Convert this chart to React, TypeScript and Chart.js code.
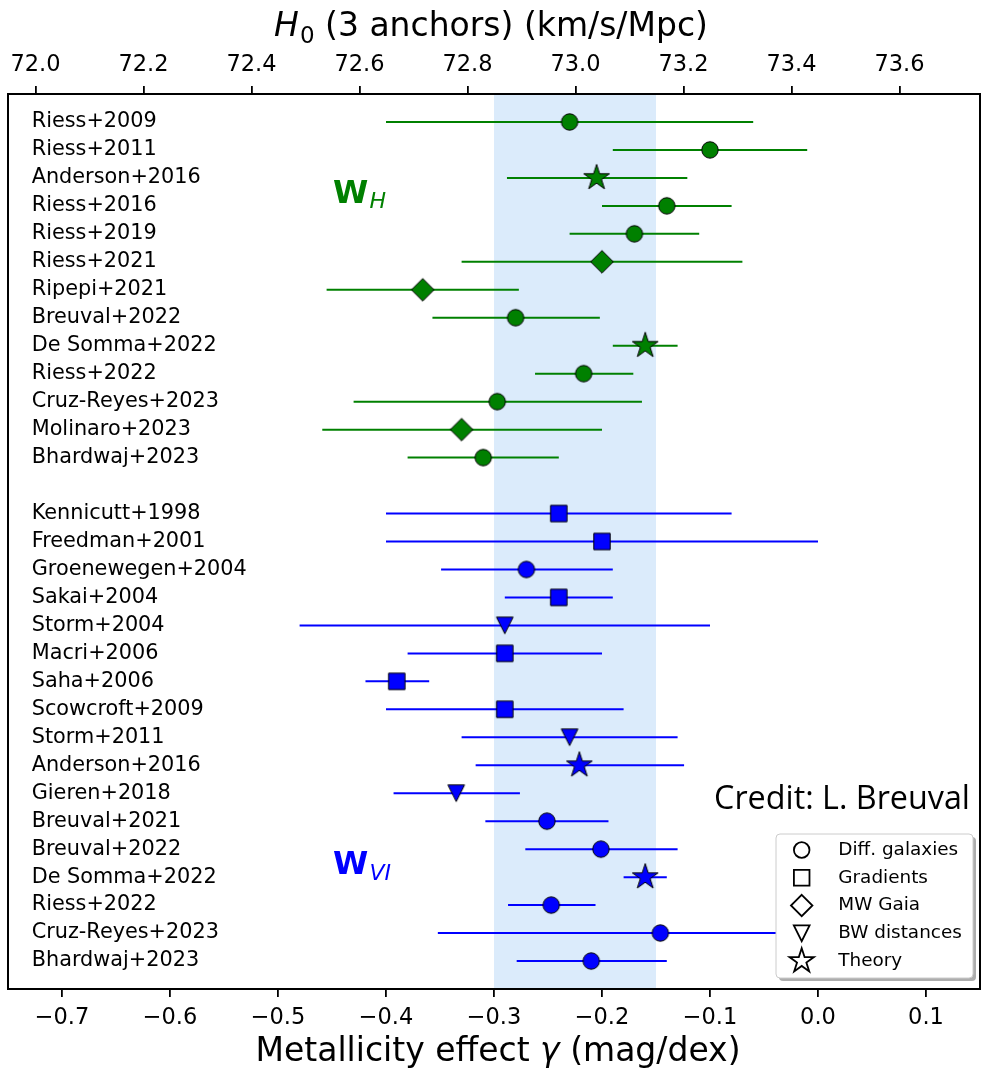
import React, { useEffect, useRef } from "react";
import { Chart, registerables } from "chart.js";

Chart.register(...registerables);

const FAMILY = '"DejaVu Sans", sans-serif';
Chart.defaults.font.family = FAMILY;

// ---------------- data ----------------
const greenLabels = [
  "Riess+2009", "Riess+2011", "Anderson+2016", "Riess+2016", "Riess+2019",
  "Riess+2021", "Ripepi+2021", "Breuval+2022", "De Somma+2022", "Riess+2022",
  "Cruz-Reyes+2023", "Molinaro+2023", "Bhardwaj+2023",
];
const greenGamma = [-0.23, -0.10, -0.205, -0.14, -0.17, -0.20, -0.366, -0.28, -0.16, -0.217, -0.297, -0.33, -0.31];
const greenLow = [-0.40, -0.19, -0.288, -0.20, -0.23, -0.33, -0.455, -0.357, -0.19, -0.262, -0.43, -0.459, -0.38];
const greenHigh = [-0.06, -0.01, -0.121, -0.08, -0.11, -0.07, -0.277, -0.202, -0.13, -0.171, -0.163, -0.20, -0.24];
const greenMethod = ["diff", "diff", "theory", "diff", "diff", "gaia", "gaia", "diff", "theory", "diff", "diff", "gaia", "diff"];

const blueLabels = [
  "Kennicutt+1998", "Freedman+2001", "Groenewegen+2004", "Sakai+2004", "Storm+2004",
  "Macri+2006", "Saha+2006", "Scowcroft+2009", "Storm+2011", "Anderson+2016",
  "Gieren+2018", "Breuval+2021", "Breuval+2022", "De Somma+2022", "Riess+2022",
  "Cruz-Reyes+2023", "Bhardwaj+2023",
];
const blueGamma = [-0.24, -0.20, -0.27, -0.24, -0.29, -0.29, -0.39, -0.29, -0.23, -0.221, -0.335, -0.251, -0.201, -0.16, -0.247, -0.146, -0.21];
const blueLow = [-0.40, -0.40, -0.349, -0.29, -0.48, -0.38, -0.419, -0.40, -0.33, -0.317, -0.393, -0.308, -0.271, -0.18, -0.287, -0.352, -0.279];
const blueHigh = [-0.08, 0.0, -0.19, -0.19, -0.10, -0.20, -0.36, -0.18, -0.13, -0.124, -0.276, -0.194, -0.13, -0.14, -0.206, 0.06, -0.14];
const blueMethod = ["grad", "grad", "diff", "grad", "bw", "grad", "grad", "grad", "bw", "theory", "bw", "diff", "diff", "theory", "diff", "diff", "diff"];

const rowLabels = [...greenLabels, "", ...blueLabels];
const greenRows = greenLabels.map((_, i) => i);
const blueRows = blueLabels.map((_, i) => greenLabels.length + 1 + i);

const gammaRange = [-0.75, 0.15];
const gammaTicks = [-0.7, -0.6, -0.5, -0.4, -0.3, -0.2, -0.1, 0.0, 0.1];
const h0Range = [71.949, 73.749];
const h0Ticks = [72.0, 72.2, 72.4, 72.6, 72.8, 73.0, 73.2, 73.4, 73.6];
const bandRange = [-0.3, -0.15];

const legendKeys = ["diff", "grad", "gaia", "bw", "theory"];
const legendLabels = ["Diff. galaxies", "Gradients", "MW Gaia", "BW distances", "Theory"];

const GREEN = "#008000";
const BLUE = "#0000ff";
const BAND = "#dbebfb";

// ---------------- markers ----------------
function tracePath(ctx: CanvasRenderingContext2D, shape: string, k = 1) {
  ctx.beginPath();
  if (shape === "diff") {
    ctx.arc(0, 0, 8.2 * k, 0, Math.PI * 2);
  } else if (shape === "grad") {
    const h = 8.2 * k;
    ctx.rect(-h, -h, 2 * h, 2 * h);
  } else if (shape === "gaia") {
    const r = 11.3 * k;
    ctx.moveTo(0, -r); ctx.lineTo(r, 0); ctx.lineTo(0, r); ctx.lineTo(-r, 0); ctx.closePath();
  } else if (shape === "bw") {
    const h = 8.3 * k;
    ctx.moveTo(-h, -h); ctx.lineTo(h, -h); ctx.lineTo(0, h); ctx.closePath();
  } else if (shape === "theory") {
    const R = 13.5 * k, r = R * 0.381966;
    for (let j = 0; j < 10; j++) {
      const a = -Math.PI / 2 + (j * Math.PI) / 5;
      const rr = j % 2 === 0 ? R : r;
      const px = rr * Math.cos(a), py = rr * Math.sin(a);
      if (j === 0) ctx.moveTo(px, py); else ctx.lineTo(px, py);
    }
    ctx.closePath();
  }
}

function makeMarker(shape: string, fill: string): HTMLCanvasElement {
  const c = document.createElement("canvas");
  c.width = 36; c.height = 36;
  const ctx = c.getContext("2d") as CanvasRenderingContext2D;
  ctx.translate(18, 18);
  tracePath(ctx, shape);
  ctx.fillStyle = fill;
  ctx.fill();
  ctx.lineWidth = 1;
  ctx.strokeStyle = "#000";
  ctx.stroke();
  return c;
}

function fmtTick(v: number | string) {
  const n = Number(v);
  if (Math.abs(n) < 1e-9) return "0.0";
  return n.toFixed(1).replace("-", "\u2212");
}

function drawRich(ctx: CanvasRenderingContext2D, parts: { t: string; f: string; dy: number; dx?: number }[], cx: number, baseline: number, align: "center" | "left" | "right", color: string) {
  ctx.save();
  ctx.fillStyle = color;
  ctx.textBaseline = "alphabetic";
  ctx.textAlign = "left";
  let total = 0;
  const widths = parts.map((p) => { ctx.font = p.f; const w = ctx.measureText(p.t).width + (p.dx || 0); total += w; return w; });
  let x = align === "center" ? cx - total / 2 : align === "right" ? cx - total : cx;
  parts.forEach((p, i) => {
    ctx.font = p.f;
    ctx.fillText(p.t, x + (p.dx || 0), baseline + p.dy);
    x += widths[i];
  });
  ctx.restore();
}

export default function App() {
  const ref = useRef<HTMLCanvasElement>(null);

  useEffect(() => {
    const canvas = ref.current;
    if (!canvas) return;

    const errorSets = [
      { rows: greenRows, low: greenLow, high: greenHigh, color: GREEN },
      { rows: blueRows, low: blueLow, high: blueHigh, color: BLUE },
    ];

    const underlayPlugin = {
      id: "underlay",
      beforeDatasetsDraw(chart: any) {
        const { ctx, chartArea } = chart;
        const x = chart.scales.x, y = chart.scales.y;
        ctx.save();
        const b0 = x.getPixelForValue(bandRange[0]);
        const b1 = x.getPixelForValue(bandRange[1]);
        ctx.fillStyle = BAND;
        ctx.fillRect(b0, chartArea.top, b1 - b0, chartArea.bottom - chartArea.top);
        ctx.beginPath();
        ctx.rect(chartArea.left, chartArea.top, chartArea.right - chartArea.left, chartArea.bottom - chartArea.top);
        ctx.clip();
        ctx.lineWidth = 2;
        errorSets.forEach((s) => {
          ctx.strokeStyle = s.color;
          s.rows.forEach((r, i) => {
            const py = y.getPixelForValue(r);
            ctx.beginPath();
            ctx.moveTo(x.getPixelForValue(s.low[i]), py);
            ctx.lineTo(x.getPixelForValue(s.high[i]), py);
            ctx.stroke();
          });
        });
        ctx.restore();
      },
    };

    const overlayPlugin = {
      id: "overlay",
      afterDatasetsDraw(chart: any) {
        const { ctx, chartArea } = chart;
        const x = chart.scales.x, y = chart.scales.y;
        ctx.save();
        ctx.strokeStyle = "#000";
        ctx.lineWidth = 2;
        ctx.strokeRect(chartArea.left, chartArea.top, chartArea.right - chartArea.left, chartArea.bottom - chartArea.top);
        ctx.restore();

        const wx = x.getPixelForValue(-0.449);
        drawRich(ctx, [
          { t: "W", f: `bold 32px ${FAMILY}`, dy: 0 },
          { t: "H", f: `italic 22px ${FAMILY}`, dy: 5, dx: 1 },
        ], wx, y.getPixelForValue(2.9), "left", GREEN);
        drawRich(ctx, [
          { t: "W", f: `bold 32px ${FAMILY}`, dy: 0 },
          { t: "VI", f: `italic 22px ${FAMILY}`, dy: 6, dx: 1 },
        ], wx, y.getPixelForValue(26.9), "left", BLUE);

        drawRich(ctx, [{ t: "Credit: L. Breuval", f: `32.3px "Open Sans", ${FAMILY}`, dy: 0 }],
          chartArea.right - 10, y.getPixelForValue(24.55), "right", "#000");
      },
      afterDraw(chart: any) {
        const { ctx, chartArea } = chart;
        const cx = (chartArea.left + chartArea.right) / 2;
        drawRich(ctx, [
          { t: "H", f: `italic 33px ${FAMILY}`, dy: 0 },
          { t: "0", f: `23px ${FAMILY}`, dy: 7, dx: 1 },
          { t: " (3 anchors) (km/s/Mpc)", f: `33px ${FAMILY}`, dy: 0 },
        ], cx - 3, chartArea.top - 58.5, "center", "#000");
        drawRich(ctx, [
          { t: "Metallicity effect ", f: `33px ${FAMILY}`, dy: 0 },
          { t: "\u03b3", f: `italic 33px ${FAMILY}`, dy: 0 },
          { t: " (mag/dex)", f: `33px ${FAMILY}`, dy: 0 },
        ], cx + 4, chartArea.bottom + 72, "center", "#000");

        // legend
        const lw = 197, lh = 144;
        const lx = chartArea.right - 7 - lw;
        const ly = chartArea.bottom - 11 - lh;
        ctx.save();
        ctx.fillStyle = "rgba(0,0,0,0.32)";
        ctx.beginPath();
        (ctx as any).roundRect(lx + 3, ly + 3, lw, lh, 4);
        ctx.fill();
        ctx.fillStyle = "#fff";
        ctx.strokeStyle = "#cccccc";
        ctx.lineWidth = 1;
        ctx.beginPath();
        (ctx as any).roundRect(lx, ly, lw, lh, 4);
        ctx.fill();
        ctx.stroke();
        legendKeys.forEach((k, i) => {
          const rowY = ly + 16 + i * 27.75;
          ctx.save();
          ctx.translate(lx + 25.7, rowY);
          tracePath(ctx, k, 0.95);
          ctx.lineWidth = 1.8;
          ctx.strokeStyle = "#000";
          ctx.stroke();
          ctx.restore();
          ctx.fillStyle = "#000";
          ctx.font = `18.4px ${FAMILY}`;
          ctx.textAlign = "left";
          ctx.textBaseline = "middle";
          ctx.fillText(legendLabels[i], lx + 62.3, rowY);
        });
        ctx.restore();
      },
    };

    const greenStyles = greenMethod.map((m) => makeMarker(m, GREEN));
    const blueStyles = blueMethod.map((m) => makeMarker(m, BLUE));

    const tickGrid = { display: true, drawOnChartArea: false, drawTicks: true, tickLength: 8, color: "#000", lineWidth: 1.8 };

    const chart = new Chart(canvas, {
      type: "scatter",
      data: {
        datasets: [
          {
            label: "W_H",
            data: greenGamma.map((g, i) => ({ x: g, y: greenRows[i] })),
            pointStyle: greenStyles as any,
            pointRadius: 9,
            backgroundColor: GREEN,
            borderColor: "#000",
            xAxisID: "x",
            yAxisID: "y",
          },
          {
            label: "W_VI",
            data: blueGamma.map((g, i) => ({ x: g, y: blueRows[i] })),
            pointStyle: blueStyles as any,
            pointRadius: 9,
            backgroundColor: BLUE,
            borderColor: "#000",
            xAxisID: "x",
            yAxisID: "y",
          },
        ],
      },
      options: {
        animation: false,
        responsive: false,
        devicePixelRatio: 1,
        events: [],
        layout: { autoPadding: false, padding: { left: 8, right: 4, top: 0, bottom: 0 } },
        plugins: { legend: { display: false }, tooltip: { enabled: false }, title: { display: false } },
        scales: {
          x: {
            type: "linear",
            position: "bottom",
            min: gammaRange[0],
            max: gammaRange[1],
            afterBuildTicks: (s: any) => { s.ticks = gammaTicks.map((v) => ({ value: v })); },
            ticks: { autoSkip: false, color: "#000", padding: 7.5, font: { size: 22.5 }, callback: (v: any) => fmtTick(v), maxRotation: 0 },
            grid: tickGrid,
            border: { display: false },
            afterFit: (s: any) => { s.height = 82; s.paddingLeft = 0; s.paddingRight = 0; },
          },
          x2: {
            type: "linear",
            axis: "x",
            position: "top",
            min: h0Range[0],
            max: h0Range[1],
            afterBuildTicks: (s: any) => { s.ticks = h0Ticks.map((v) => ({ value: v })); },
            ticks: { autoSkip: false, color: "#000", padding: 7.5, font: { size: 22.5 }, callback: (v: any) => fmtTick(v), maxRotation: 0 },
            grid: tickGrid,
            border: { display: false },
            afterFit: (s: any) => { s.height = 94; s.paddingLeft = 0; s.paddingRight = 0; },
          },
          y: {
            type: "linear",
            position: "left",
            min: -1,
            max: rowLabels.length,
            reverse: true,
            afterBuildTicks: (s: any) => {
              s.ticks = [...greenRows, ...blueRows].map((v) => ({ value: v }));
            },
            ticks: {
              mirror: true,
              padding: 23.7,
              autoSkip: false,
              color: "#000",
              font: { size: 20.8 },
              callback: (v: any) => rowLabels[Number(v)] ?? "",
            },
            grid: { display: false, drawTicks: false },
            border: { display: false },
            afterFit: (s: any) => { s.width = 0; s.paddingTop = 0; s.paddingBottom = 0; },
          },
        } as any,
      },
      plugins: [underlayPlugin, overlayPlugin],
    } as any);

    return () => chart.destroy();
  }, []);

  return (
    <div style={{ position: "absolute", left: 0, top: 0, width: 984, height: 1071, background: "#fff" }}>
      <canvas ref={ref} width={984} height={1071} style={{ display: "block" }} />
    </div>
  );
}
